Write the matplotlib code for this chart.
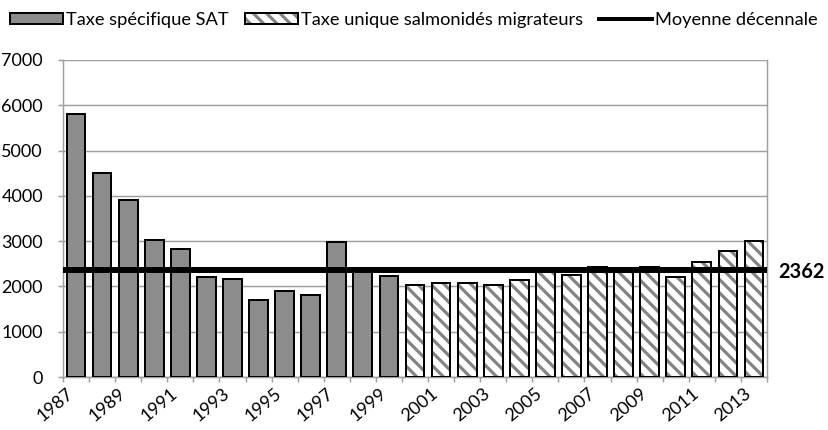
import matplotlib
matplotlib.use("Agg")
import matplotlib.pyplot as plt
import matplotlib.transforms as mtransforms
from matplotlib.patches import Patch
from matplotlib.lines import Line2D
from matplotlib.legend_handler import HandlerTuple
import numpy as np

# ---- data ----
years = list(range(1987, 2014))
sat_years = list(range(1987, 2000))
sat_values = [5800, 4510, 3900, 3020, 2830, 2200, 2160, 1690, 1900, 1800, 2980, 2370, 2220]
tusm_years = list(range(2000, 2014))
tusm_values = [2030, 2080, 2080, 2040, 2150, 2340, 2260, 2420, 2380, 2420, 2200, 2530, 2790, 3000]
mean_value = 2362
label_sat = "Taxe spécifique SAT"
label_tusm = "Taxe unique salmonidés migrateurs"
label_mean = "Moyenne décennale"
yticks = [0, 1000, 2000, 3000, 4000, 5000, 6000, 7000]
xlabel_years = list(range(1987, 2014, 2))

DPI = 120
PT = 72.0 / DPI  # points per pixel

plt.rcParams['font.family'] = ['Lato', 'DejaVu Sans']
plt.rcParams['hatch.linewidth'] = 3.2 * PT

fig = plt.figure(figsize=(828 / DPI, 430 / DPI), dpi=DPI)
ax = fig.add_axes([63 / 828, 1 - 377 / 430, (767 - 63) / 828, (377 - 60) / 430])

grey_fill = '#8c8c8c'
hatch_grey = '#848484'
axis_grey = '#a0a0a0'
bw = 0.72

idx = {y: i for i, y in enumerate(years)}
x_sat = [idx[y] for y in sat_years]
x_tusm = [idx[y] for y in tusm_years]

ax.bar(x_sat, sat_values, width=bw, color=grey_fill, edgecolor='black',
       linewidth=2 * PT, zorder=3)
ax.bar(x_tusm, tusm_values, width=bw, color='white', edgecolor=hatch_grey,
       hatch='\\\\\\', linewidth=0, zorder=3)
ax.bar(x_tusm, tusm_values, width=bw, fill=False, edgecolor='black',
       linewidth=2 * PT, zorder=3.1)

ax.axhline(mean_value, color='black', linewidth=6 * PT, zorder=4)
ax.text(778 / 828, 1 - 272 / 430, str(mean_value), transform=fig.transFigure,
        fontsize=20 * PT, fontweight='bold', ha='left', va='center')

ax.set_xlim(-0.5, len(years) - 0.5)
ax.set_ylim(0, 7000)
ax.set_yticks(yticks)
ax.yaxis.grid(True, color=axis_grey, linewidth=1.5 * PT, zorder=0)
ax.set_axisbelow(True)

for s in ['left', 'right', 'bottom']:
    ax.spines[s].set_color(axis_grey)
    ax.spines[s].set_linewidth(1.5 * PT)
ax.spines['top'].set_visible(False)

ax.tick_params(axis='y', direction='out', length=5 * PT, width=1.5 * PT,
               color=axis_grey, labelsize=18 * PT, pad=15 * PT, labelcolor='black')

ax.set_xticks(np.arange(-0.5, len(years), 1.0))
ax.tick_params(axis='x', which='major', direction='out', length=5 * PT,
               width=1.5 * PT, color=axis_grey, labelbottom=False)
ax.set_xticks([idx[y] for y in xlabel_years], minor=True)
ax.set_xticklabels([str(y) for y in xlabel_years], minor=True)
ax.tick_params(axis='x', which='minor', length=0, labelsize=18 * PT, pad=14 * PT)
offset = mtransforms.ScaledTranslation(-5 / DPI, 0 / DPI, fig.dpi_scale_trans)
for lab in ax.get_xticklabels(minor=True):
    lab.set_rotation(40)
    lab.set_ha('right')
    lab.set_va('center')
    lab.set_rotation_mode('anchor')
    lab.set_transform(lab.get_transform() + offset)

# legend
h1 = Patch(facecolor=grey_fill, edgecolor='black', linewidth=2 * PT)
h2a = Patch(facecolor='white', edgecolor=hatch_grey, hatch='\\\\\\', linewidth=0)
h2b = Patch(facecolor='none', edgecolor='black', linewidth=2 * PT)
h3 = Line2D([0], [0], color='black', linewidth=4 * PT)
fpx = 18.3
fs = fpx * PT
fig.legend([h1, (h2a, h2b), h3], [label_sat, label_tusm, label_mean],
           handler_map={tuple: HandlerTuple(ndivide=1)},
           loc='center left', bbox_to_anchor=(10 / 828, 1 - 20 / 430),
           ncol=3, frameon=False, fontsize=fs, borderpad=0, borderaxespad=0,
           handlelength=53 / fpx, handleheight=11 / fpx, handletextpad=3 / fpx,
           columnspacing=16 / fpx)

fig.savefig('out.png', dpi=DPI)
